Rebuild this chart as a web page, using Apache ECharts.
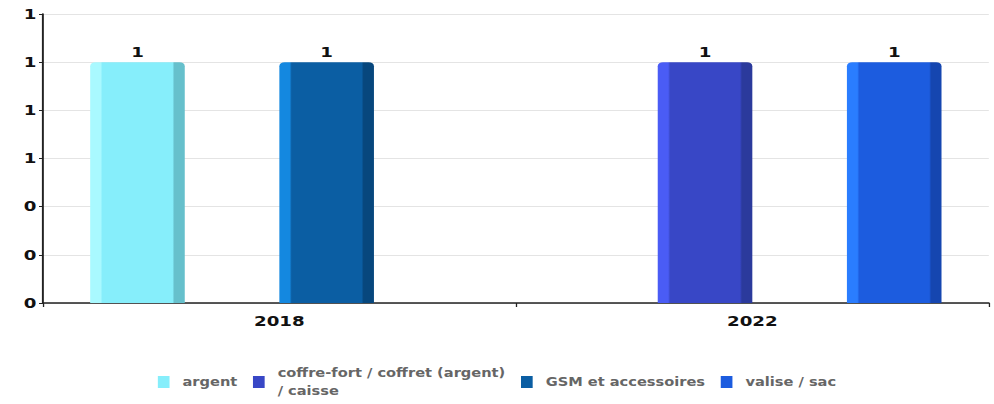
<!DOCTYPE html>
<html><head><meta charset="utf-8">
<script src="https://cdn.jsdelivr.net/npm/echarts@6/dist/echarts.min.js"></script>
<style>html,body{margin:0;padding:0;background:#fff;overflow:hidden}
#c{width:765px;height:404px;transform:scaleX(1.29935);transform-origin:0 0}</style>
</head><body><div id="c"></div>
<script>
const categories = ['2018', '2022'];
const seriesNames = ['argent', 'coffre-fort / coffret (argent)\n/ caisse', 'GSM et accessoires', 'valise / sac'];
const argent = [1, null];
const coffre = [null, 1];
const gsm = [1, null];
const valise = [null, 1];

const palette = [
  {main:'#86EEFB', light:'#A9F9FF', dark:'#66C0CC'},
  {main:'#3847C6', light:'#4A5CF5', dark:'#2B3A9C'},
  {main:'#0B5EA3', light:'#1488E0', dark:'#07477D'},
  {main:'#1C5CDF', light:'#2A7DFF', dark:'#1546B0'}
];
function grad(p){
  return new echarts.graphic.LinearGradient(0,0,1,0,[
    {offset:0,color:p.light},{offset:0.11,color:p.light},{offset:0.13,color:p.main},
    {offset:0.87,color:p.main},{offset:0.89,color:p.dark},{offset:1,color:p.dark}]);
}
const dataSets = [argent, coffre, gsm, valise];
const chart = echarts.init(document.getElementById('c'), null, {renderer:'svg'});
chart.setOption({
  animation:false,
  grid:{left:33,right:4,top:14,bottom:101,containLabel:false},
  legend:{bottom:-1,left:'center',itemWidth:9,itemHeight:12,itemGap:12,
    icon:'rect',
    textStyle:{fontFamily:'DejaVu Sans Condensed',fontWeight:'bold',fontSize:12.5,color:'#666',lineHeight:18,padding:[0,0,0,5]},
    data:seriesNames.map((n,i)=>({name:n,itemStyle:{color:palette[i].main}}))},
  xAxis:{type:'category',data:categories,
    axisLine:{lineStyle:{color:'#222',width:1.5}},
    axisTick:{show:true,length:4,lineStyle:{color:'#222'}},
    axisLabel:{fontFamily:'DejaVu Sans',fontWeight:'bold',fontSize:14,color:'#111',margin:11}},
  yAxis:{type:'value',min:0,max:1.2,interval:0.2,
    axisLine:{show:true,lineStyle:{color:'#222',width:1.5}},
    axisTick:{show:true,length:3,lineStyle:{color:'#222'}},
    splitLine:{lineStyle:{color:'#e4e4e4'}},
    axisLabel:{fontFamily:'DejaVu Sans',fontWeight:'bold',fontSize:14,color:'#111',margin:5,
      formatter:v=>String(Math.round(v))}},
  series:dataSets.map((d,i)=>({
    name:seriesNames[i],type:'bar',data:d,barGap:'0%',barCategoryGap:'20%',
    itemStyle:{color:grad(palette[i]),borderRadius:[4,4,0,0]},
    label:{show:true,position:'top',distance:3,fontFamily:'DejaVu Sans',fontWeight:'bold',fontSize:14,color:'#111',
      formatter:p=>String(Math.round(p.value))}
  }))
});
</script></body></html>
